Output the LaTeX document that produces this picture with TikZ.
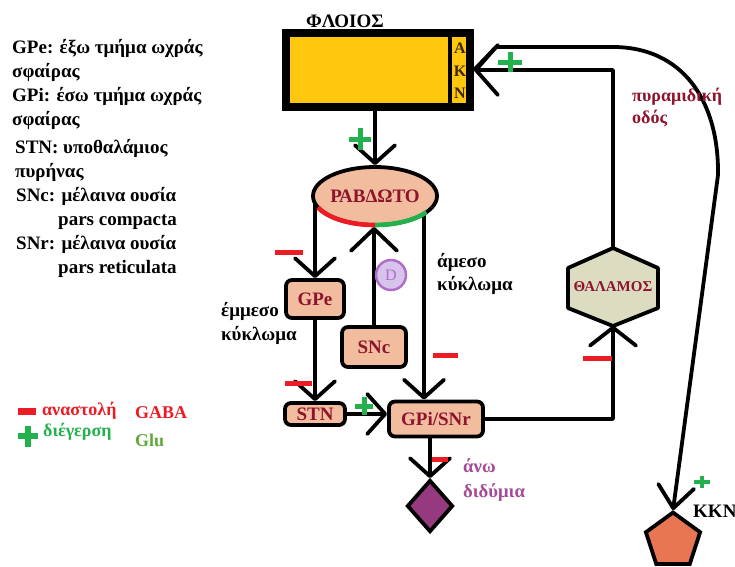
\documentclass[tikz,border=0pt]{standalone}
\usepackage{fontspec}
\setmainfont{Liberation Serif}
\usetikzlibrary{arrows.meta,shapes.geometric,backgrounds,calc}
\definecolor{cortexY}{RGB}{255,199,14}
\definecolor{peach}{RGB}{242,188,158}
\definecolor{maroonT}{RGB}{140,20,45}
\definecolor{thalC}{RGB}{220,220,192}
\definecolor{diaC}{RGB}{150,58,128}
\definecolor{kknC}{RGB}{232,118,82}
\definecolor{inhR}{RGB}{236,28,36}
\definecolor{excG}{RGB}{34,177,76}
\definecolor{gluG}{RGB}{95,170,55}
\definecolor{purpT}{RGB}{165,75,150}
\definecolor{dopB}{RGB}{175,110,200}
\definecolor{dopF}{RGB}{215,195,235}
\definecolor{aknT}{RGB}{60,40,10}
\tikzset{
  txt/.style={font=\bfseries\fontsize{19}{24}\selectfont, inner sep=0pt, align=left},
  box/.style={draw, line width=3.8pt, rounded corners=6pt, fill=peach, text=maroonT,
    font=\bfseries\fontsize{19}{22}\selectfont, inner sep=0pt},
  conn/.style={line width=3.8pt, line join=round},
  arr/.style={conn, -{Straight Barb[length=18pt,width=40pt,round]}},
  bigarr/.style={conn, -{Straight Barb[length=22pt,width=50pt,round]}},
  minusmk/.style={draw=inhR, line width=5pt},
  plusmk/.style={draw=excG, line width=5pt},
}
\begin{document}
\begin{tikzpicture}[x=1pt,y=-1pt]
\useasboundingbox (0,0) rectangle (735,566);

% legend of abbreviations
\node[txt, anchor=base west] (lgpe) at (12,77) {GPe: έξω τμήμα ωχράς\\σφαίρας};
\node[txt, anchor=base west] (lgpi) at (12,125) {GPi: έσω τμήμα ωχράς\\σφαίρας};
\node[txt, anchor=base west] (lstn) at (15,177) {STN: υποθαλάμιος\\πυρήνας};
\node[txt, anchor=base west] (lsnc) at (16,225) {SNc: μέλαινα ουσία\\\hspace*{42pt}pars compacta};
\node[txt, anchor=base west] (lsnr) at (16,273) {SNr: μέλαινα ουσία\\\hspace*{42pt}pars reticulata};

% legend of signs
\draw[minusmk, line width=7pt] (18,411) -- (36,411);
\draw[plusmk, line width=6pt] (18,436) -- (38,436) (28,426) -- (28,447);
\node[txt, text=inhR, anchor=base west, font=\bfseries\fontsize{18}{22}\selectfont] (linh) at (42,415) {αναστολή};
\node[txt, text=inhR, anchor=base west, font=\bfseries\fontsize{18}{22}\selectfont] (lgaba) at (135,418) {GABA};
\node[txt, text=excG, anchor=base west, font=\bfseries\fontsize{18}{22}\selectfont] (lexc) at (43,436) {διέγερση};
\node[txt, text=gluG, anchor=base west, font=\bfseries\fontsize{18}{22}\selectfont] (lglu) at (135,446) {Glu};

% cortex
\node[txt, anchor=base] (flabel) at (345,27) {ΦΛΟΙΟΣ};
\node[draw, line width=8pt, fill=cortexY, minimum width=184pt, minimum height=74pt, inner sep=0pt] (cortex) at (378,70) {};
\draw[line width=4.5pt] ([xshift=-24pt]cortex.north east) -- ([xshift=-24pt]cortex.south east);
\node[txt, align=center, text=aknT, font=\bfseries\fontsize{16}{22.5}\selectfont] (akn) at (460,71) {Α\\Κ\\Ν};

% basal ganglia
\node[ellipse, draw, line width=3.8pt, fill=peach, minimum width=124pt, minimum height=58pt, inner sep=0pt,
  text=maroonT, font=\bfseries\fontsize{19}{22}\selectfont] (rab) at (375,196) {\makebox[0pt]{ΡΑΒΔΩΤΟ}};
\draw[inhR, line width=4.6pt] (rab.center) ++(203:62pt and 29pt) arc[start angle=203, end angle=270, x radius=62pt, y radius=29pt];
\draw[excG, line width=4.6pt] (rab.center) ++(270:62pt and 29pt) arc[start angle=270, end angle=326, x radius=62pt, y radius=29pt];

\node[box, minimum width=58pt, minimum height=38pt] (gpe) at (315,299) {GPe};
\node[box, minimum width=64pt, minimum height=40pt] (snc) at (374,347) {SNc};
\node[box, minimum width=60pt, minimum height=22pt] (stn) at (315,414) {STN};
\node[box, minimum width=94pt, minimum height=35pt] (gpi) at (436,419) {GPi/SNr};
\coordinate (gpiin) at ([xshift=-12pt]gpi.north);
\node[circle, draw=dopB, line width=2.5pt, fill=dopF, text=dopB, minimum size=30pt, inner sep=0pt,
  font=\fontsize{16}{18}\selectfont] (dop) at (391,275) {D};

% thalamus
\draw[conn, fill=thalC] (613,248) -- (658,268) -- (658,308) -- (613,326) -- (568,308) -- (568,268) -- cycle;
\node[minimum width=90pt, minimum height=77pt, inner sep=0pt, text=maroonT,
  font=\bfseries\fontsize{15}{18}\selectfont] (thal) at (613,287) {\makebox[0pt]{ΘΑΛΑΜΟΣ}};

% superior colliculi and lower motor neuron
\node[diamond, draw, line width=3.8pt, fill=diaC, minimum width=46pt, minimum height=52pt, inner sep=0pt] (dia) at (430,506) {};
\node[regular polygon, regular polygon sides=5, draw, line width=3.8pt, fill=kknC, minimum size=57pt, inner sep=0pt] (kkn) at (673,541) {};

% texts
\node[txt, anchor=base west] (ind) at (221,340) {έμμεσο\\κύκλωμα};
\node[txt, anchor=base west, font=\bfseries\fontsize{19}{23}\selectfont] (dir) at (437,290) {άμεσο\\κύκλωμα};
\node[txt, anchor=base west, text=maroonT, font=\bfseries\fontsize{18}{22}\selectfont] (pyr) at (632,123) {πυραμιδική\\οδός};
\node[txt, anchor=base west, text=purpT, font=\bfseries\fontsize{18.7}{25}\selectfont] (anw) at (463,497) {άνω\\διδύμια};
\node[txt, anchor=base west] (kknl) at (693,517) {ΚΚΝ};

% connectors
\begin{scope}[on background layer]
\fill[white] (0,0) rectangle (735,566);
\draw[arr] (rab.north |- cortex.south) -- (rab.north);
\draw[arr] (rab.center -| gpe.north) -- (gpe.north);
\draw[arr] (rab.center -| gpiin) -- (gpiin);
\draw[arr, -{Straight Barb[length=22pt,width=46pt,round]}] (snc.north) -- (snc.north |- rab.south);
\draw[arr] (gpe.south) -- (gpe.south |- stn.north);
\draw[arr] (stn.east) -- (stn.east -| gpi.west);
\draw[arr, -{Straight Barb[length=18pt,width=46pt,round]}] (gpi.east) -| (thal.south);
\draw[bigarr] (thal.north) |- (cortex.east);
\draw[arr] (dia.north |- gpi.south) -- (dia.north);
\draw[arr, -{Straight Barb[length=22pt,width=36pt,round]}] (cortex.east) -- ++(22,-23) -- (613,47)
  .. controls (682,47) and (719,100) .. (718,175) -- (kkn.corner 1);
\end{scope}

% signs
\draw[plusmk] (349,139) -- (371,139) (360,128) -- (360,150);
\draw[plusmk] (498,62) -- (522,62) (510,52) -- (510,72);
\draw[plusmk] (355,406) -- (373,406) (364,397) -- (364,415);
\draw[plusmk, line width=4pt] (694,482) -- (710,482) (702,476) -- (702,488);
\draw[minusmk] (275,252) -- (303,252);
\draw[minusmk] (285,383) -- (312,383);
\draw[minusmk] (433,355) -- (458,355);
\draw[minusmk] (583,358) -- (612,358);
\draw[minusmk] (432,459) -- (448,459);
\end{tikzpicture}
\end{document}
